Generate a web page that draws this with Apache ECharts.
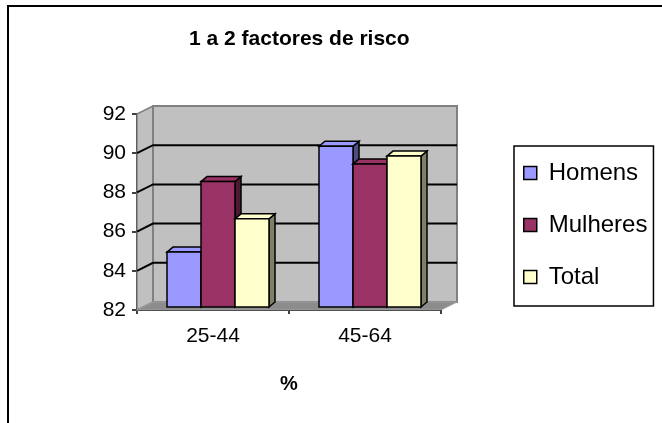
<!DOCTYPE html>
<html>
<head>
<meta charset="utf-8">
<script src="https://cdn.jsdelivr.net/npm/echarts@6/dist/echarts.min.js"></script>
<style>html,body{margin:0;padding:0;background:#fff}#chart{width:662px;height:423px}</style>
</head>
<body>
<div id="chart"></div>
<script>
// ---- data ----
const categories = ['25-44', '45-64'];
const homens = [84.8, 90.2];
const mulheres = [88.4, 89.3];
const total = [86.5, 89.7];
const yTicks = [82, 84, 86, 88, 90, 92];
const titleText = '1 a 2 factores de risco';
const xAxisName = '%';

// ---- style ----
const FONT = 'Liberation Sans, Arial, sans-serif';
const DEPTH_X = 16, DEPTH_Y = 8;       // wall depth offset
const BAR_DX = 6, BAR_DY = 5;         // bar 3D depth
const SHIFT_X = 5, SHIFT_Y = -3;      // bars set back into the scene
const BAR_FRAC = 34 / 152;
const yMin = yTicks[0], yMax = yTicks[yTicks.length - 1];
const yInterval = yTicks[1] - yTicks[0];

const chart = echarts.init(document.getElementById('chart'), null, {renderer: 'canvas'});

function wallSeries() {
  return {
    type: 'custom',
    name: '__walls',
    silent: true,
    z: 1,
    clip: false,
    data: [[0, yMin]],
    encode: {x: 0, y: 1},
    renderItem: function (params, api) {
      const cs = params.coordSys;
      const x0 = cs.x, yT = cs.y, w = cs.width, h = cs.height, yB = yT + h;
      const children = [];
      // left side wall
      children.push({type: 'polygon', shape: {points: [[x0, yT], [x0 + DEPTH_X, yT - DEPTH_Y], [x0 + DEPTH_X, yB - DEPTH_Y], [x0, yB]]},
        style: {fill: '#c0c0c0', stroke: '#808080', lineWidth: 1.5}});
      // back wall
      children.push({type: 'rect', shape: {x: x0 + DEPTH_X, y: yT - DEPTH_Y, width: w, height: h},
        style: {fill: '#c0c0c0', stroke: '#808080', lineWidth: 2}});
      // floor
      children.push({type: 'polygon', shape: {points: [[x0, yB], [x0 + w, yB], [x0 + w + DEPTH_X, yB - DEPTH_Y], [x0 + DEPTH_X, yB - DEPTH_Y]]},
        style: {fill: '#8c8c8c', stroke: '#a0a0a0', lineWidth: 1}});
      // gridlines
      yTicks.forEach(function (v) {
        if (v === yMin || v === yMax) return;
        const y = api.coord([0, v])[1];
        children.push({type: 'polyline', shape: {points: [[x0, y], [x0 + DEPTH_X, y - DEPTH_Y], [x0 + w + DEPTH_X, y - DEPTH_Y]]},
          style: {stroke: '#000', lineWidth: 2, fill: null}});
      });
      return {type: 'group', children: children};
    }
  };
}

function barSeries(name, values, color, sideColor, idx) {
  return {
    type: 'custom',
    name: name,
    z: 2 + idx,
    clip: false,
    itemStyle: {color: color, borderColor: '#000', borderWidth: 1.5},
    data: categories.map(function (c, i) { return [i, values[i]]; }),
    encode: {x: 0, y: 1},
    renderItem: function (params, api) {
      const ci = api.value(0), v = api.value(1);
      const band = api.size([1, 0])[0];
      const bw = band * BAR_FRAC;
      const base = api.coord([ci, yMin]);
      const topP = api.coord([ci, v]);
      const left = base[0] - 1.5 * bw + idx * bw + SHIFT_X;
      const right = left + bw;
      const bottom = base[1] + SHIFT_Y;
      const top = topP[1] + SHIFT_Y;
      const st = {stroke: '#000', lineWidth: 1.5, lineJoin: 'miter'};
      return {type: 'group', children: [
        {type: 'polygon', shape: {points: [[right, top], [right + BAR_DX, top - BAR_DY], [right + BAR_DX, bottom - BAR_DY], [right, bottom]]},
          style: Object.assign({fill: sideColor}, st)},
        {type: 'polygon', shape: {points: [[left, top], [left + BAR_DX, top - BAR_DY], [right + BAR_DX, top - BAR_DY], [right, top]]},
          style: Object.assign({fill: color}, st)},
        {type: 'rect', shape: {x: left, y: top, width: bw, height: bottom - top},
          style: Object.assign({fill: color}, st)}
      ]};
    }
  };
}

const option = {
  backgroundColor: '#fff',
  animation: false,
  title: {
    text: titleText,
    left: 189, top: 29, padding: 0,
    textStyle: {fontFamily: FONT, fontSize: 21, fontWeight: 'bold', color: '#000'}
  },
  legend: {
    orient: 'vertical',
    left: 514, top: 146,
    padding: [15, 6, 17, 9],
    itemWidth: 13, itemHeight: 13, itemGap: 28,
    borderColor: '#000', borderWidth: 1.5,
    icon: 'rect',
    textStyle: {fontFamily: FONT, fontSize: 24, color: '#000', padding: [0, 0, 0, 7]},
    data: [
      {name: 'Homens', itemStyle: {color: '#9999FF', borderColor: '#000', borderWidth: 1.5}},
      {name: 'Mulheres', itemStyle: {color: '#993366', borderColor: '#000', borderWidth: 1.5}},
      {name: 'Total', itemStyle: {color: '#FFFFCC', borderColor: '#000', borderWidth: 1.5}}
    ]
  },
  grid: {left: 137, right: 221, top: 114, bottom: 113},
  xAxis: {
    type: 'category',
    data: categories,
    boundaryGap: true,
    name: xAxisName,
    nameLocation: 'middle',
    nameGap: 64,
    nameTextStyle: {fontFamily: FONT, fontSize: 20, fontWeight: 'bold', color: '#000'},
    axisLine: {lineStyle: {color: '#000', width: 2}},
    axisTick: {show: true, length: 4, lineStyle: {color: '#000', width: 1.5}},
    axisLabel: {fontFamily: FONT, fontSize: 21, color: '#000', margin: 16},
    splitLine: {show: false}
  },
  yAxis: {
    type: 'value',
    min: yMin, max: yMax, interval: yInterval,
    axisLine: {show: true, lineStyle: {color: '#000', width: 2}},
    axisTick: {show: true, length: 5, lineStyle: {color: '#000', width: 1.5}},
    axisLabel: {fontFamily: FONT, fontSize: 21, color: '#000', margin: 11},
    splitLine: {show: false}
  },
  graphic: [{
    type: 'rect', z: 100, silent: true,
    shape: {x: 8, y: 6, width: 700, height: 500},
    style: {fill: null, stroke: '#000', lineWidth: 2}
  }],
  series: [
    wallSeries(),
    barSeries('Homens', homens, '#9999FF', '#4d4d80', 0),
    barSeries('Mulheres', mulheres, '#993366', '#4d1a33', 1),
    barSeries('Total', total, '#FFFFCC', '#808066', 2)
  ]
};
chart.setOption(option);
</script>
</body>
</html>
